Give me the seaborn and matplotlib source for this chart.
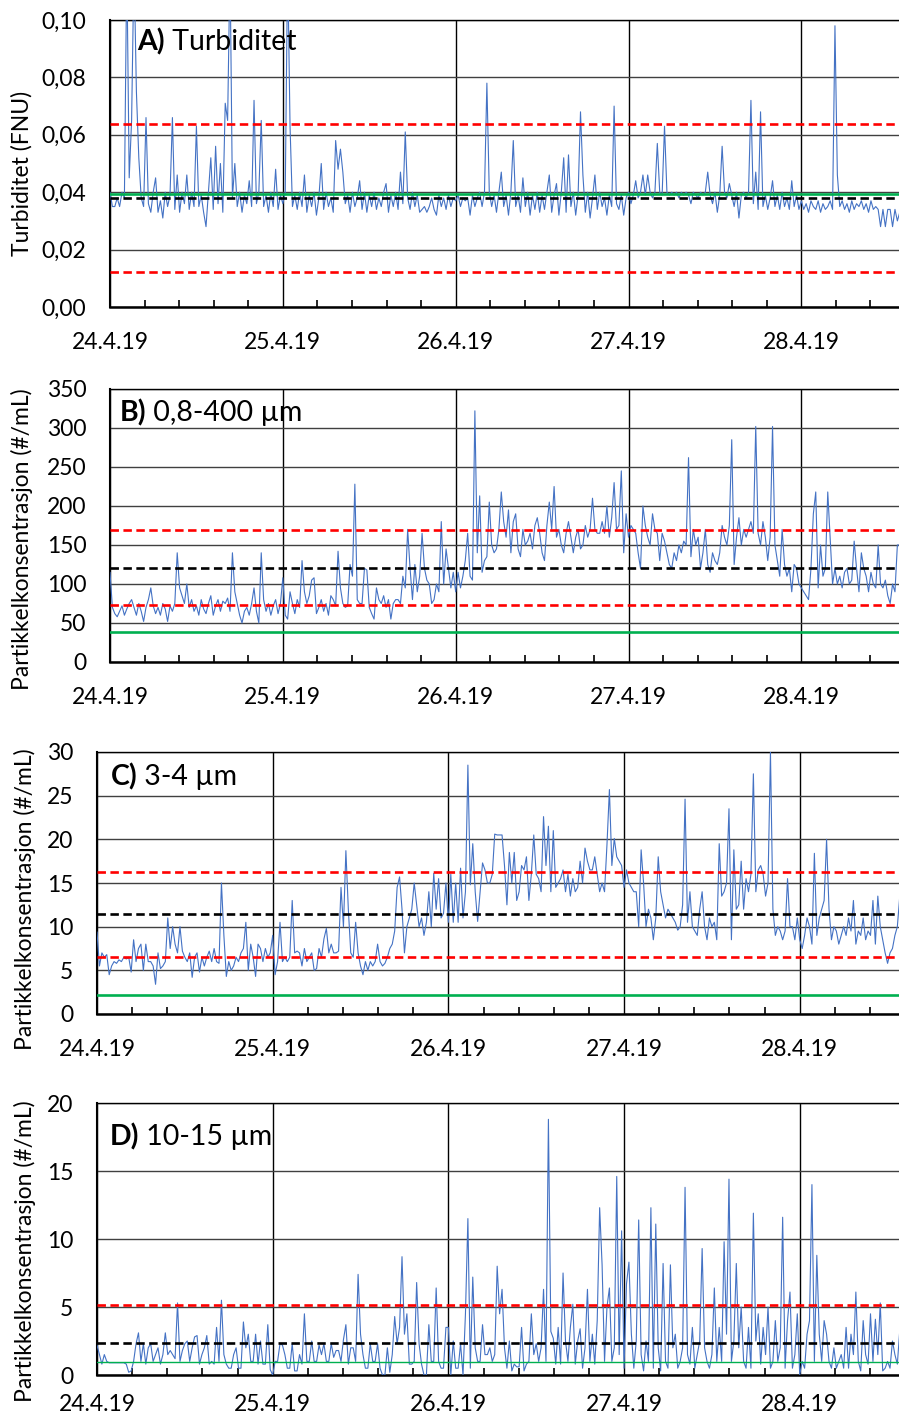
import numpy as np
import pandas as pd
import matplotlib
matplotlib.use("Agg")
import matplotlib.pyplot as plt
import seaborn as sns

# 20-minute readings from 24.4.19 00:00
START = "2019-04-24 00:00"
STEP = "20min"
X_END = pd.Timestamp("2019-04-24") + pd.Timedelta(days=4.565)
DAY_TICKS = ["2019-04-24", "2019-04-25", "2019-04-26", "2019-04-27", "2019-04-28"]
DAY_LABELS = ["24.4.19", "25.4.19", "26.4.19", "27.4.19", "28.4.19"]

# A) Turbiditet (FNU)
turbiditet = [
    0.040, 0.035, 0.035, 0.038, 0.035, 0.040, 0.038, 0.120, 0.045, 0.065, 0.120, 0.075,
    0.052, 0.038, 0.035, 0.066, 0.036, 0.033, 0.040, 0.045, 0.033, 0.037, 0.031, 0.040,
    0.035, 0.039, 0.066, 0.034, 0.046, 0.033, 0.040, 0.036, 0.046, 0.034, 0.040, 0.035,
    0.063, 0.035, 0.039, 0.033, 0.028, 0.040, 0.052, 0.034, 0.056, 0.036, 0.050, 0.033,
    0.071, 0.065, 0.120, 0.038, 0.050, 0.035, 0.040, 0.033, 0.039, 0.036, 0.044, 0.035,
    0.072, 0.036, 0.040, 0.065, 0.035, 0.039, 0.033, 0.040, 0.035, 0.048, 0.034, 0.039,
    0.036, 0.040, 0.120, 0.063, 0.035, 0.039, 0.034, 0.040, 0.035, 0.046, 0.033, 0.039,
    0.035, 0.040, 0.032, 0.038, 0.050, 0.034, 0.040, 0.035, 0.038, 0.033, 0.058, 0.048,
    0.055, 0.047, 0.036, 0.039, 0.033, 0.040, 0.035, 0.038, 0.044, 0.034, 0.040, 0.033,
    0.039, 0.035, 0.040, 0.034, 0.038, 0.035, 0.040, 0.043, 0.033, 0.039, 0.035, 0.040,
    0.034, 0.047, 0.036, 0.061, 0.038, 0.034, 0.040, 0.035, 0.039, 0.033, 0.034, 0.035,
    0.033, 0.035, 0.038, 0.034, 0.032, 0.039, 0.035, 0.038, 0.034, 0.039, 0.035, 0.038,
    0.037, 0.039, 0.035, 0.038, 0.037, 0.038, 0.032, 0.039, 0.035, 0.038, 0.040, 0.035,
    0.040, 0.078, 0.040, 0.035, 0.039, 0.033, 0.040, 0.047, 0.035, 0.039, 0.032, 0.040,
    0.058, 0.035, 0.039, 0.033, 0.045, 0.035, 0.040, 0.032, 0.039, 0.034, 0.040, 0.033,
    0.039, 0.034, 0.040, 0.046, 0.033, 0.039, 0.043, 0.032, 0.040, 0.052, 0.033, 0.053,
    0.035, 0.040, 0.032, 0.039, 0.068, 0.046, 0.033, 0.040, 0.031, 0.038, 0.046, 0.034,
    0.040, 0.035, 0.038, 0.032, 0.039, 0.035, 0.070, 0.036, 0.034, 0.039, 0.032, 0.038,
    0.040, 0.036, 0.039, 0.044, 0.038, 0.040, 0.046, 0.039, 0.046, 0.040, 0.038, 0.040,
    0.057, 0.040, 0.039, 0.063, 0.040, 0.039, 0.040, 0.039, 0.040, 0.038, 0.040, 0.039,
    0.040, 0.039, 0.036, 0.040, 0.039, 0.038, 0.040, 0.039, 0.040, 0.047, 0.039, 0.036,
    0.040, 0.033, 0.039, 0.056, 0.040, 0.038, 0.043, 0.039, 0.035, 0.040, 0.031, 0.039,
    0.040, 0.038, 0.040, 0.072, 0.036, 0.047, 0.034, 0.068, 0.035, 0.039, 0.034, 0.038,
    0.044, 0.035, 0.039, 0.034, 0.040, 0.035, 0.038, 0.034, 0.044, 0.035, 0.039, 0.034,
    0.037, 0.034, 0.036, 0.033, 0.037, 0.035, 0.034, 0.037, 0.033, 0.036, 0.034, 0.035,
    0.037, 0.034, 0.098, 0.046, 0.035, 0.037, 0.034, 0.036, 0.033, 0.037, 0.034, 0.036,
    0.035, 0.037, 0.034, 0.036, 0.033, 0.037, 0.034, 0.035, 0.034, 0.028, 0.034, 0.028,
    0.034, 0.034, 0.028, 0.034, 0.030, 0.033,
]

# B) 0,8-400 µm (#/mL)
partikler_total = [
    115, 70, 62, 58, 65, 72, 60, 68, 75, 80, 70, 60,
    75, 65, 52, 70, 80, 95, 72, 62, 70, 60, 75, 68,
    52, 72, 65, 75, 140, 95, 85, 75, 100, 70, 80, 65,
    72, 60, 80, 68, 62, 75, 85, 60, 72, 80, 65, 78,
    75, 82, 65, 140, 90, 75, 60, 50, 65, 70, 60, 75,
    95, 65, 50, 140, 80, 65, 75, 60, 72, 80, 62, 75,
    108, 60, 55, 90, 75, 62, 80, 70, 130, 90, 75, 85,
    105, 108, 62, 70, 80, 65, 75, 60, 85, 80, 72, 142,
    95, 75, 70, 72, 125, 110, 228, 80, 75, 75, 120, 118,
    70, 62, 55, 95, 80, 75, 85, 70, 80, 55, 75, 80,
    80, 75, 110, 95, 170, 120, 80, 125, 90, 110, 165, 120,
    105, 100, 75, 80, 100, 90, 180, 100, 145, 120, 95, 115,
    90, 115, 95, 110, 130, 165, 110, 105, 322, 140, 213, 115,
    130, 135, 205, 150, 140, 145, 170, 218, 180, 160, 195, 140,
    180, 190, 145, 135, 170, 150, 155, 165, 145, 175, 185, 165,
    140, 130, 175, 205, 170, 225, 160, 170, 150, 140, 165, 180,
    160, 140, 160, 170, 145, 150, 175, 160, 170, 210, 170, 165,
    165, 180, 165, 200, 160, 185, 230, 170, 175, 245, 140, 190,
    160, 175, 170, 165, 140, 120, 200, 175, 160, 150, 190, 170,
    165, 130, 165, 155, 140, 125, 120, 140, 130, 150, 140, 155,
    150, 262, 135, 170, 150, 160, 120, 140, 170, 125, 115, 140,
    130, 125, 140, 175, 160, 150, 175, 285, 125, 160, 185, 150,
    170, 160, 170, 180, 165, 302, 165, 150, 180, 160, 130, 160,
    302, 150, 130, 110, 170, 125, 110, 120, 90, 125, 120, 100,
    95, 90, 85, 80, 120, 190, 218, 95, 150, 110, 120, 218,
    160, 100, 120, 100, 110, 95, 115, 120, 100, 105, 155, 120,
    90, 140, 120, 110, 90, 115, 100, 95, 150, 100, 95, 105,
    85, 75, 100, 90, 150, 150,
]

# C) 3-4 µm (#/mL)
partikler_3_4 = [
    9.4, 5.5, 7.0, 6.5, 6.8, 4.5, 5.5, 6.0, 5.8, 6.2, 6.0, 6.5,
    6.3, 6.5, 4.8, 8.5, 6.0, 7.5, 8.0, 5.0, 8.0, 6.0, 6.0, 5.5,
    3.4, 7.0, 5.2, 5.5, 6.0, 11.0, 7.5, 10.0, 8.0, 7.0, 10.0, 7.2,
    6.5, 6.0, 7.0, 4.2, 6.5, 7.0, 4.8, 6.5, 5.5, 6.5, 7.2, 6.0,
    7.5, 6.0, 5.8, 15.0, 9.0, 4.3, 6.0, 5.0, 5.5, 6.5, 6.0, 7.0,
    7.5, 10.5, 5.0, 8.0, 6.5, 4.3, 8.0, 7.5, 6.0, 7.5, 6.5, 7.0,
    9.0, 4.5, 6.0, 10.5, 6.0, 6.5, 6.0, 6.5, 13.0, 7.0, 7.2, 7.0,
    5.5, 7.5, 6.0, 6.5, 7.0, 5.0, 5.2, 7.5, 6.5, 8.6, 9.8, 7.0,
    8.0, 7.0, 7.0, 7.2, 14.5, 10.0, 18.7, 12.0, 7.0, 6.5, 10.5, 7.0,
    5.5, 4.5, 6.0, 5.0, 6.0, 5.5, 6.0, 8.0, 6.0, 5.5, 5.8, 6.5,
    7.5, 8.0, 9.5, 14.5, 15.7, 12.0, 7.0, 10.0, 11.0, 12.0, 15.0, 12.5,
    10.0, 11.0, 9.0, 10.5, 14.0, 10.0, 16.1, 12.0, 15.5, 11.0, 11.5, 15.0,
    10.5, 16.0, 10.5, 15.0, 10.5, 16.7, 11.0, 14.0, 28.5, 14.8, 19.5, 14.0,
    10.6, 14.0, 17.3, 16.5, 15.0, 15.0, 16.0, 20.6, 20.5, 20.5, 20.5, 17.0,
    12.5, 18.5, 15.0, 18.5, 13.0, 14.0, 17.0, 16.5, 18.0, 13.0, 16.0, 20.5,
    16.0, 15.5, 14.0, 22.6, 17.0, 21.5, 14.0, 21.0, 14.5, 15.0, 15.5, 16.5,
    14.0, 16.0, 13.5, 15.5, 14.0, 14.5, 17.5, 15.0, 19.0, 17.5, 16.5, 16.5,
    18.0, 16.0, 14.0, 15.0, 14.0, 19.4, 25.7, 17.0, 20.1, 18.0, 17.5, 17.0,
    14.5, 16.5, 15.0, 14.5, 14.0, 14.0, 10.0, 18.8, 15.0, 10.0, 12.0, 11.0,
    8.5, 11.0, 18.0, 14.0, 12.5, 11.0, 12.0, 11.5, 11.0, 10.5, 9.6, 10.0,
    12.5, 24.6, 10.5, 14.0, 10.0, 9.5, 9.0, 12.0, 14.0, 10.0, 8.5, 11.0,
    10.0, 10.5, 8.5, 19.5, 13.5, 14.0, 15.0, 23.5, 8.5, 18.8, 12.0, 12.5,
    17.5, 12.0, 15.5, 14.0, 16.0, 27.5, 14.0, 16.5, 17.0, 16.0, 13.5, 15.0,
    30.0, 12.0, 9.0, 10.0, 9.5, 8.5, 9.5, 15.5, 10.0, 10.0, 8.5, 11.0,
    8.5, 7.5, 9.0, 11.0, 10.0, 8.0, 18.4, 9.0, 11.0, 12.0, 13.0, 20.0,
    12.0, 8.5, 10.0, 9.5, 8.0, 9.0, 10.0, 9.0, 11.0, 9.5, 13.0, 8.0,
    9.5, 9.0, 11.0, 8.5, 9.5, 9.0, 13.0, 8.0, 13.5, 10.0, 8.5, 7.0,
    5.8, 7.0, 7.5, 9.0, 10.0, 13.5,
]

# D) 10-15 µm (#/mL)
partikler_10_15 = [
    2.2, 1.5, 0.8, 1.5, 1.0, 0.9, 0.9, 0.9, 0.9, 0.9, 0.9, 0.9,
    0.8, 0.2, 0.3, 1.0, 2.3, 3.1, 1.0, 2.3, 0.8, 2.0, 2.3, 1.0,
    1.5, 2.0, 0.8, 1.5, 3.1, 1.5, 1.8, 1.5, 1.2, 5.3, 1.0, 1.8,
    2.3, 2.5, 1.0, 2.0, 2.8, 2.9, 0.8, 1.5, 2.0, 2.9, 0.8, 1.0,
    0.8, 3.5, 1.0, 5.5, 1.5, 0.8, 0.5, 0.5, 1.5, 2.0, 0.5, 0.5,
    3.9, 2.0, 3.0, 1.0, 1.0, 3.0, 0.8, 2.5, 0.8, 0.8, 3.7, 0.4,
    0.0, 1.0, 1.0, 2.3, 2.2, 1.5, 0.5, 0.5, 2.3, 0.3, 0.3, 1.5,
    0.8, 4.5, 1.0, 1.0, 2.5, 1.0, 1.0, 2.2, 1.5, 2.3, 1.0, 1.0,
    2.3, 1.3, 1.8, 1.8, 1.0, 2.6, 3.7, 0.8, 2.0, 2.0, 1.0, 7.4,
    3.0, 1.5, 0.5, 0.5, 2.3, 1.0, 1.0, 2.3, 0.5, 0.0, 0.0, 2.0,
    0.2, 1.5, 4.3, 2.3, 3.5, 8.7, 3.0, 4.5, 0.8, 0.8, 1.0, 6.8,
    2.3, 0.8, 0.0, 0.0, 3.7, 1.0, 1.0, 6.4, 1.0, 0.5, 0.5, 3.5,
    3.5, 0.0, 2.5, 0.5, 0.5, 2.3, 0.0, 4.5, 11.5, 0.5, 7.2, 2.0,
    1.0, 1.0, 3.7, 1.5, 1.5, 2.0, 1.0, 1.5, 8.0, 4.5, 6.3, 2.0,
    0.5, 2.5, 0.3, 0.8, 0.6, 0.6, 3.5, 0.3, 0.8, 1.0, 4.5, 1.5,
    2.3, 1.0, 2.0, 6.3, 1.0, 18.8, 3.2, 2.7, 0.8, 3.5, 0.8, 7.5,
    2.5, 1.0, 3.5, 5.2, 0.8, 2.5, 3.4, 0.5, 2.0, 6.3, 1.0, 3.0,
    0.8, 4.0, 12.3, 8.1, 1.0, 5.0, 6.4, 1.0, 2.0, 14.6, 1.5, 10.6,
    0.5, 6.7, 8.3, 3.0, 0.5, 2.5, 11.4, 1.5, 0.3, 2.5, 1.0, 12.3,
    0.5, 11.1, 2.0, 0.3, 8.2, 1.0, 0.5, 8.1, 2.0, 3.0, 0.5, 1.0,
    2.0, 13.8, 1.5, 0.8, 3.5, 0.5, 1.5, 2.5, 9.3, 2.0, 1.0, 0.5,
    1.5, 6.4, 1.0, 3.5, 1.0, 9.8, 3.0, 14.4, 1.0, 2.5, 8.2, 2.0,
    5.0, 1.0, 0.5, 3.5, 0.5, 11.9, 2.5, 4.5, 0.8, 3.5, 1.5, 5.0,
    0.5, 1.0, 4.0, 1.0, 2.0, 11.6, 0.5, 4.0, 6.1, 0.5, 1.5, 4.5,
    0.0, 1.0, 0.5, 3.0, 4.0, 14.0, 1.0, 8.8, 3.0, 1.0, 4.0, 3.0,
    1.0, 0.5, 2.0, 0.5, 1.0, 1.5, 0.5, 3.5, 0.5, 3.0, 1.5, 6.1,
    1.0, 0.3, 4.0, 1.5, 0.8, 4.5, 1.0, 4.1, 1.5, 5.3, 0.3, 0.5,
    1.0, 0.5, 2.5, 1.5, 0.8, 3.3,
]

# reference levels per panel: red (upper/lower), black, green
red_levels = [[0.0637, 0.0123], [169, 73], [16.25, 6.55], [5.12]]
black_levels = [0.0381, 120.5, 11.45, 2.36]
green_levels = [0.0392, 38.0, 2.15, 0.98]

y_ticks = [
    [0.0, 0.02, 0.04, 0.06, 0.08, 0.10],
    [0, 50, 100, 150, 200, 250, 300, 350],
    [0, 5, 10, 15, 20, 25, 30],
    [0, 5, 10, 15, 20],
]
y_tick_labels = [
    ["0,00", "0,02", "0,04", "0,06", "0,08", "0,10"],
    ["0", "50", "100", "150", "200", "250", "300", "350"],
    ["0", "5", "10", "15", "20", "25", "30"],
    ["0", "5", "10", "15", "20"],
]
panel_tags = ["A)", "B)", "C)", "D)"]
panel_names = ["Turbiditet", "0,8-400 µm", "3-4 µm", "10-15 µm"]
y_labels = ["Turbiditet (FNU)", "Partikkelkonsentrasjon (#/mL)",
            "Partikkelkonsentrasjon (#/mL)", "Partikkelkonsentrasjon (#/mL)"]
series = [turbiditet, partikler_total, partikler_3_4, partikler_10_15]

sns.set_theme(style="white")
plt.rcParams["font.family"] = ["Lato", "DejaVu Sans"]

W, H = 899, 1418
fig = plt.figure(figsize=(W / 100, H / 100), dpi=100)

# plot boxes in pixels: left, top, bottom
boxes = [(110, 20, 307), (110, 389, 662), (97, 752, 1014), (97, 1103, 1375)]
tag_pos = [(0.035, 0.923), (0.012, 0.912), (0.017, 0.905), (0.016, 0.875)]
ylabel_pos = [(-0.112, 0.465), (-0.112, 0.45), (-0.09, 0.44), (-0.09, 0.456)]
xlabel_pad = [18, 18, 18, 14]
green_width = [1.9, 1.9, 1.9, 1.0]

BLUE = "#4472C4"
RED = "#FF0000"
GREEN = "#00B050"
dash = (0, (3.2, 1.7))

for k in range(4):
    left, top, bottom = boxes[k]
    ax = fig.add_axes([left / W, 1 - bottom / H, (W - left) / W, (bottom - top) / H])
    vals = series[k]
    df = pd.DataFrame({
        "tid": pd.date_range(START, periods=len(vals), freq=STEP),
        "verdi": vals,
    })
    sns.lineplot(data=df, x="tid", y="verdi", ax=ax, color=BLUE, lw=0.8,
                 estimator=None, zorder=3)

    for lvl in red_levels[k]:
        ax.axhline(lvl, color=RED, ls=dash, lw=1.9, zorder=5)
    ax.axhline(black_levels[k], color="black", ls=dash, lw=1.9, zorder=5)
    ax.axhline(green_levels[k], color=GREEN, lw=green_width[k], zorder=4)

    ax.set_ylim(y_ticks[k][0], y_ticks[k][-1])
    ax.set_yticks(y_ticks[k])
    ax.set_yticklabels(y_tick_labels[k])
    ax.set_xlim(pd.Timestamp(DAY_TICKS[0]), X_END)
    ax.set_xticks(pd.to_datetime(DAY_TICKS))
    ax.set_xticklabels(DAY_LABELS)
    ax.set_xticks(pd.date_range(DAY_TICKS[0], X_END, freq="288min"), minor=True)

    ax.grid(axis="y", color="#404040", lw=1.0, zorder=1)
    ax.grid(axis="x", which="major", color="black", lw=1.0, zorder=1)
    ax.set_axisbelow(True)

    ax.tick_params(axis="both", which="major", length=0, labelsize=16.5,
                   labelcolor="black")
    ax.tick_params(axis="y", pad=17)
    ax.tick_params(axis="x", pad=xlabel_pad[k])
    ax.tick_params(axis="x", which="minor", direction="in", length=5, width=1.2,
                   color="black", bottom=True)

    ax.set_xlabel("")
    ax.set_ylabel(y_labels[k], fontsize=16.5, color="black", va="center")
    ax.yaxis.set_label_coords(*ylabel_pos[k])

    for side in ["left", "top", "bottom"]:
        ax.spines[side].set_color("black")
    ax.spines["left"].set_linewidth(1.5)
    ax.spines["bottom"].set_linewidth(1.8)
    ax.spines["top"].set_linewidth(1.0)
    ax.spines["right"].set_visible(False)

    tag = ax.text(tag_pos[k][0], tag_pos[k][1], panel_tags[k], transform=ax.transAxes,
                  fontsize=20.5, fontweight="bold", va="center", ha="left",
                  color="black", zorder=6)
    ax.annotate(" " + panel_names[k], xy=(1, 0.5), xycoords=tag, va="center",
                ha="left", fontsize=20.5, color="black", zorder=6)

fig.savefig("out.png", dpi=100)
